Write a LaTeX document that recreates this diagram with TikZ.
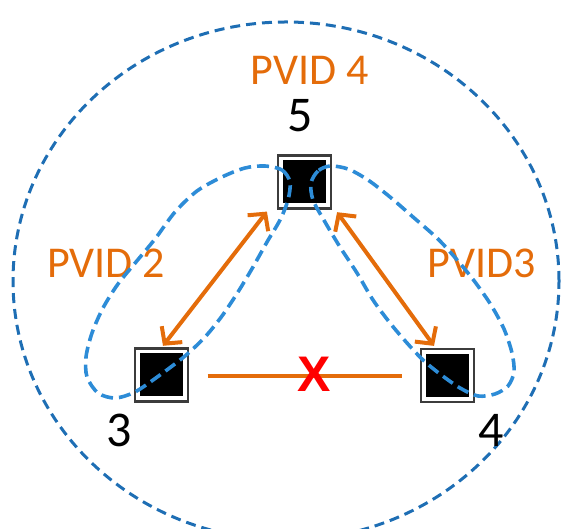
\documentclass[tikz,border=0pt]{standalone}
\usepackage{fontspec}
\setmainfont{Carlito}
\newfontfamily\xfont{Liberation Sans}
\usetikzlibrary{arrows.meta,calc}
\definecolor{vorange}{RGB}{228,108,10}
\definecolor{loopblue}{RGB}{45,140,215}
\definecolor{ringblue}{RGB}{30,110,180}
\definecolor{framegray}{RGB}{60,60,60}
\begin{document}
\begin{tikzpicture}[x=1pt,y=1pt,
  switchbox/.style={draw=framegray, line width=2.2pt, fill=white, minimum size=53pt, inner sep=0pt,
    path picture={\fill[black] ([shift={(5pt,5pt)}]path picture bounding box.south west) rectangle ([shift={(-5pt,-5pt)}]path picture bounding box.north east);}},
  link/.style={draw=vorange, line width=4pt},
  biarrow/.style={link, {Straight Barb[length=12pt,width=26pt]}-{Straight Barb[length=12pt,width=26pt]}},
  vlan/.style={draw=loopblue, line width=3.6pt, dash pattern=on 12pt off 6pt},
  ring/.style={draw=ringblue, line width=3pt, dash pattern=on 10pt off 6pt},
  pvid/.style={text=vorange, font=\fontsize{44}{44}\selectfont, inner sep=0pt, anchor=base},
  num/.style={text=black, font=\fontsize{50}{50}\selectfont, inner sep=0pt, anchor=base}]
\useasboundingbox (0,0) rectangle (567,529);
\clip (0,0) rectangle (567,529);
% outer ring
\draw[ring] (286,248) ellipse [x radius=273, y radius=259];
% switches
\node[switchbox] (top) at (304.5,347) {};
\node[switchbox] (left) at (161.5,154) {};
\node[switchbox] (right) at (447.5,153.5) {};
% links
\draw[biarrow] ([shift={(-10pt,-2pt)}]top.south west) -- ([shift={(1.5pt,1.6pt)}]left.north);
\draw[biarrow] ([shift={(5pt,-2.6pt)}]top.south east) -- ([shift={(-13.5pt,2pt)}]right.north);
\draw[link] ([shift={(18.6pt,-1pt)}]left.east) -- ([shift={(-17.6pt,-0.5pt)}]right.west);
% labels
\node[pvid] (p4) at (309.5,444) {PVID 4};
\node[num] (n5) at (300,397) {5};
\node[pvid] (p2) at (106,251) {PVID 2};
\node[pvid] (p3) at (481.5,251) {PVID3};
\node[num] (n3) at (119,82) {3};
\node[num] (n4) at (491.5,82) {4};
% vlan loops
\draw[vlan] plot[smooth cycle] coordinates {(265,363) (282,359) (290,347) (288,329) (280,309) (267,287) (253,262) (238,237) (222,213) (205,192) (185,173) (160,154) (135,137) (115,131) (98,136) (87,152) (86,172) (92,196) (103,221) (118,245) (136,267) (155,290) (175,317) (197,338) (222,352) (245,361)};
\draw[vlan] plot[smooth cycle] coordinates {(330,363) (318,358) (311,346) (313,329) (325,307) (340,282) (357,256) (373,229) (390,206) (407,186) (423,169) (440,155) (460,141) (478,133) (495,135) (508,143) (514,157) (512,176) (504,200) (491,224) (475,247) (458,268) (438,290) (413,312) (390,332) (368,349) (348,360)};
% blocked link mark
\node[text=red, font=\xfont\bfseries\fontsize{50}{50}\selectfont, inner sep=0pt, anchor=base] (cross) at (314.5,137) {X};
\end{tikzpicture}
\end{document}
